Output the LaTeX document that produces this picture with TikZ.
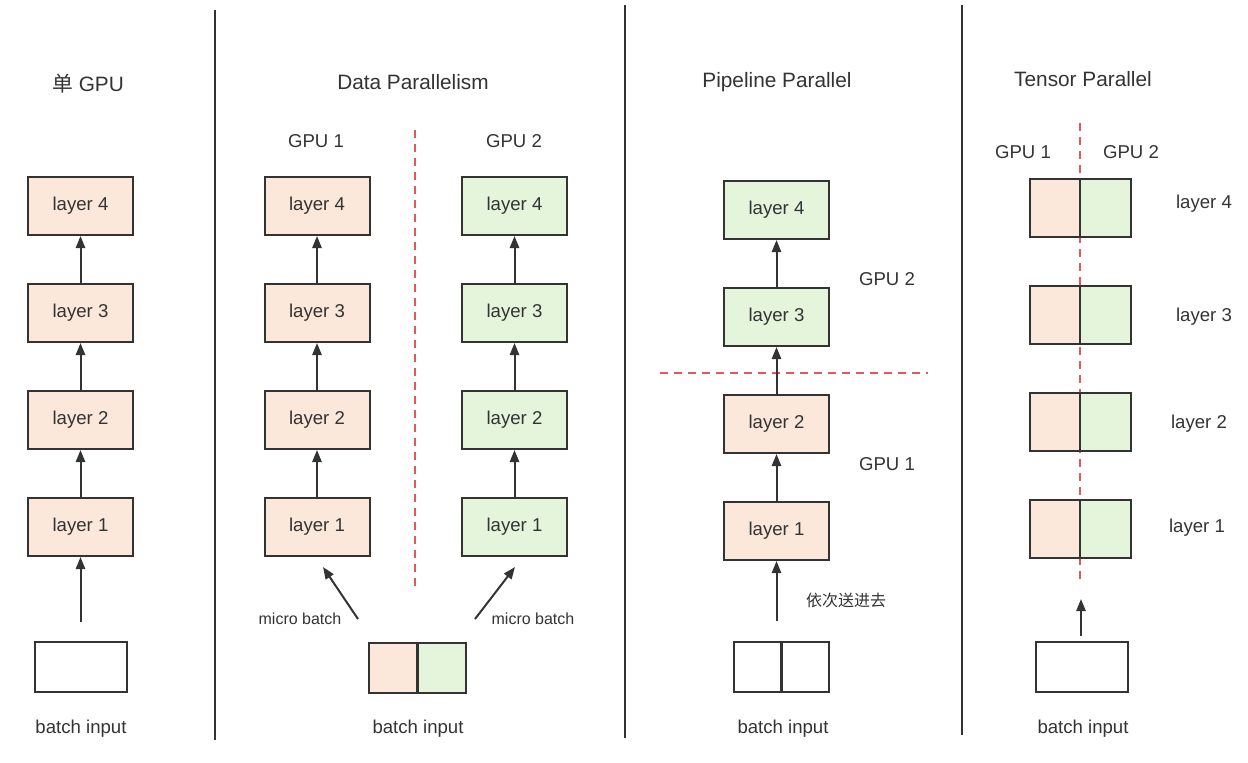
\documentclass[tikz,border=0pt]{standalone}
\usepackage{fontspec}
\setmainfont{Liberation Sans}
\newfontfamily\cjk{Noto Sans CJK SC}
\usetikzlibrary{arrows.meta}
\definecolor{peach}{HTML}{FBE8DA}
\definecolor{mint}{HTML}{E4F5DC}
\definecolor{ink}{HTML}{333333}
\definecolor{cut}{HTML}{E05A5A}
\begin{document}
\begin{tikzpicture}[x=0.5pt, y=-0.5pt, >={Triangle[length=6pt,width=4.6pt]},
  layer/.style={draw=ink, line width=1pt, minimum width=52.5pt, minimum height=29pt, inner sep=0pt, text=ink, font=\fontsize{9.3pt}{11pt}\selectfont},
  orange/.style={layer, fill=peach},
  green/.style={layer, fill=mint},
  half/.style={draw=ink, line width=1pt, minimum width=25.25pt, minimum height=29pt, inner sep=0pt},
  inbox/.style={draw=ink, line width=1pt, minimum width=46pt, minimum height=25pt, inner sep=0pt},
  inhalf/.style={draw=ink, line width=1pt, minimum width=24pt, minimum height=25pt, inner sep=0pt},
  title/.style={text=ink, font=\fontsize{10.4pt}{12pt}\selectfont},
  label/.style={text=ink, font=\fontsize{9.3pt}{11pt}\selectfont},
  small/.style={text=ink, font=\fontsize{8pt}{10pt}\selectfont},
  flow/.style={->, draw=ink, line width=1pt},
  split/.style={draw=cut, line width=0.8pt, dash pattern=on 4pt off 3pt}]
\useasboundingbox (0,0) rectangle (1248,762);

% panel dividers
\draw[ink, line width=1pt] (215,10) -- (215,740);
\draw[ink, line width=1pt] (625,5) -- (625,738);
\draw[ink, line width=1pt] (962,5) -- (962,735);

% single GPU
\node[title] (st) at (88,84) {{\cjk 单} GPU};
\node[orange] (s4) at (80.5,206) {layer 4};
\node[orange] (s3) at (80.5,313) {layer 3};
\node[orange] (s2) at (80.5,420) {layer 2};
\node[orange] (s1) at (80.5,527) {layer 1};
\node[inbox] (sin) at (81,667) {};
\node[label] (sbl) at (81,729) {batch input};
\coordinate (sa) at (80.5,622);
\draw[flow] (s1) -- (s2);
\draw[flow] (s2) -- (s3);
\draw[flow] (s3) -- (s4);
\draw[flow] (sa) -- (s1);

% data parallelism
\node[title] (dt) at (413,82) {Data Parallelism};
\node[label] (dg1) at (316,141) {GPU 1};
\node[label] (dg2) at (514,141) {GPU 2};
\node[orange] (da4) at (317,206) {layer 4};
\node[orange] (da3) at (317,313) {layer 3};
\node[orange] (da2) at (317,420) {layer 2};
\node[orange] (da1) at (317,527) {layer 1};
\node[green] (db4) at (514.5,206) {layer 4};
\node[green] (db3) at (514.5,313) {layer 3};
\node[green] (db2) at (514.5,420) {layer 2};
\node[green] (db1) at (514.5,527) {layer 1};
\foreach \c in {da,db} {
  \draw[flow] (\c1) -- (\c2);
  \draw[flow] (\c2) -- (\c3);
  \draw[flow] (\c3) -- (\c4);
}
\draw[split] (415,130) -- (415,588);
\node[inhalf, fill=peach] (dina) at (393,667.5) {};
\node[inhalf, fill=mint] (dinb) at (441.5,667.5) {};
\node[label] (dbl) at (418,729) {batch input};
\coordinate (dma) at (358,619);
\coordinate (dmah) at (323,567);
\coordinate (dmb) at (475,619);
\coordinate (dmbh) at (515,567);
\draw[flow] (dma) -- (dmah);
\draw[flow] (dmb) -- (dmbh);
\node[small] (dml) at (300,619) {micro batch};
\node[small] (dmr) at (533,619) {micro batch};

% pipeline parallel
\node[title] (pt) at (777,82) {Pipeline Parallel};
\draw[split] (660,373) -- (928,373);
\node[green] (p4) at (776.5,210) {layer 4};
\node[green] (p3) at (776.5,317) {layer 3};
\node[orange] (p2) at (776.5,424) {layer 2};
\node[orange] (p1) at (776.5,531) {layer 1};
\draw[flow] (p1) -- (p2);
\draw[flow] (p2) -- (p3);
\draw[flow] (p3) -- (p4);
\node[label] (pg2) at (887,279) {GPU 2};
\node[label] (pg1) at (887,464) {GPU 1};
\node[inhalf] (pina) at (758,667) {};
\node[inhalf] (pinb) at (805,667) {};
\node[label] (pbl) at (783,729) {batch input};
\coordinate (pa) at (776.5,621);
\draw[flow] (pa) -- (p1);
\node[small] (pal) at (846,600) {\cjk 依次送进去};

% tensor parallel
\node[title] (tt) at (1083,79) {Tensor Parallel};
\node[label] (tg1) at (1023,152) {GPU 1};
\node[label] (tg2) at (1131,152) {GPU 2};
\draw[split] (1080,123) -- (1080,580);
\node[half, fill=peach] (t4a) at (1055,208) {};
\node[half, fill=mint] (t4b) at (1105.5,208) {};
\node[half, fill=peach] (t3a) at (1055,315) {};
\node[half, fill=mint] (t3b) at (1105.5,315) {};
\node[half, fill=peach] (t2a) at (1055,422) {};
\node[half, fill=mint] (t2b) at (1105.5,422) {};
\node[half, fill=peach] (t1a) at (1055,529) {};
\node[half, fill=mint] (t1b) at (1105.5,529) {};
\node[label] (tl4) at (1204,204) {layer 4};
\node[label] (tl3) at (1204,317) {layer 3};
\node[label] (tl2) at (1199,424) {layer 2};
\node[label] (tl1) at (1197,528) {layer 1};
\node[inbox] (tin) at (1082,667) {};
\node[label] (tbl) at (1083,729) {batch input};
\coordinate (ta) at (1081,636);
\coordinate (tah) at (1081,599);
\draw[flow] (ta) -- (tah);
\end{tikzpicture}
\end{document}
